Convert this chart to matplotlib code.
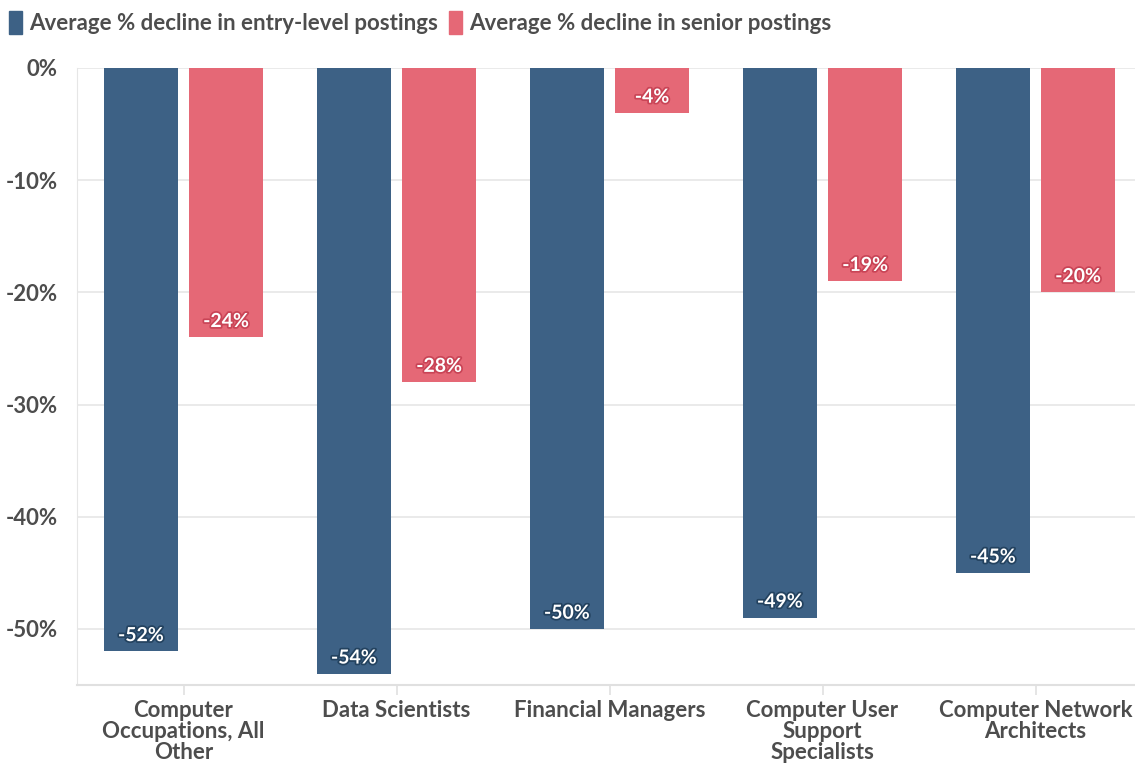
import matplotlib.pyplot as plt
import matplotlib.patheffects as pe
import numpy as np
from matplotlib.patches import Patch

categories = [
    'Computer\nOccupations, All\nOther',
    'Data Scientists',
    'Financial Managers',
    'Computer User\nSupport\nSpecialists',
    'Computer Network\nArchitects',
]
entry_level = [-52, -54, -50, -49, -45]
senior = [-24, -28, -4, -19, -20]
y_ticks = [0, -10, -20, -30, -40, -50]

entry_color = '#3d6185'
senior_color = '#e56876'
text_color = '#4d4d4d'

plt.rcParams['font.family'] = ['Lato', 'DejaVu Sans']

W, H = 1135, 764
fig = plt.figure(figsize=(W / 100, H / 100), dpi=100)
ax = fig.add_axes([77 / W, (H - 685) / H, (1135 - 77) / W, (685 - 68) / H])

x = np.arange(len(categories))
width = 0.345
offset = 0.2

b1 = ax.bar(x - offset, entry_level, width, color=entry_color, zorder=3)
b2 = ax.bar(x + offset, senior, width, color=senior_color, zorder=3)

for bars, vals, col in [(b1, entry_level, '#23425f'), (b2, senior, '#c94456')]:
    for rect, v in zip(bars, vals):
        ax.text(rect.get_x() + rect.get_width() / 2, v + 1.4, f'{v}%',
                ha='center', va='center', color='white', fontsize=14,
                fontweight='bold', zorder=4,
                path_effects=[pe.withStroke(linewidth=2.5, foreground=col)])

ax.set_xlim(-0.5, 4.467)
ax.set_ylim(-55, 0)
ax.set_yticks(y_ticks)
ax.set_yticklabels([f'{t}%' for t in y_ticks])
ax.set_xticks(x)
ax.set_xticklabels(categories, linespacing=1.0)

ax.grid(axis='y', color='#e6e6e6', linewidth=1.2, zorder=0)
for s in ['top', 'right']:
    ax.spines[s].set_visible(False)
ax.spines['left'].set_color('#e6e6e6')
ax.spines['bottom'].set_color('#e0e0e0')
ax.spines['bottom'].set_linewidth(1.5)
ax.tick_params(axis='y', length=0, pad=14, labelsize=16, labelcolor=text_color)
ax.tick_params(axis='x', length=7, color='#e0e0e0', width=1.2, pad=4,
               labelsize=16, labelcolor=text_color)
for lbl in ax.get_xticklabels() + ax.get_yticklabels():
    lbl.set_fontweight('bold')

handles = [Patch(color=entry_color, label='Average % decline in entry-level postings'),
           Patch(color=senior_color, label='Average % decline in senior postings')]
leg = fig.legend(handles=handles, loc='upper left', bbox_to_anchor=(0.0, 0.997),
                 ncol=2, frameon=False, handlelength=0.6, handleheight=1.2,
                 handletextpad=0.3, columnspacing=0.5, borderaxespad=0.1,
                 borderpad=0.3, prop={'size': 16, 'weight': 'bold'})
for t in leg.get_texts():
    t.set_color(text_color)

fig.savefig('out.png', dpi=100)
